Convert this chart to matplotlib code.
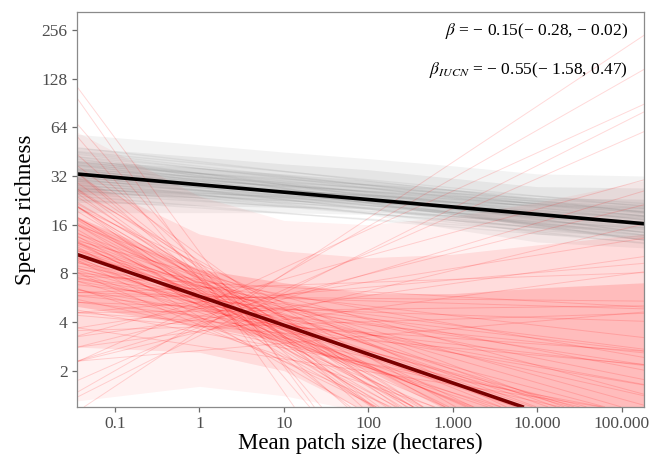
import matplotlib
matplotlib.use("Agg")
import matplotlib.pyplot as plt
from matplotlib.ticker import FixedLocator, FixedFormatter, NullLocator

plt.rcParams['font.family'] = ['Liberation Serif', 'DejaVu Serif']
plt.rcParams['mathtext.fontset'] = 'stix'

# posterior draws, read as richness at patch size 0.1 ha and 3 ha
red_at_0p1 = [8.7, 10, 7.5, 12, 6.5, 14, 5.5, 17, 4.6, 21,
              8, 9.5, 6.8, 11.5, 5.6, 14, 4.4, 3.6,
              9.5, 8, 11, 13.5, 7, 16, 5.8, 20, 4.8,
              11, 9, 13, 16, 7.5, 19, 25, 6.2,
              7.4, 6.4, 8.6, 5.4, 4.3,
              36, 30, 3.2, 2.6, 3.8, 27, 10.5, 9, 7.6, 12.5, 15, 6.4,
              9, 7.8, 10.8, 6.6, 12.8,
              9.8, 8.4, 11.6,
              55, 45, 2.0, 1.6, 2.2, 1.8, 2.9, 2.4, 3.4,
              13, 15, 11, 12.5, 17, 10, 14.5, 18, 16, 9.5, 19, 22,
              5.8, 6.8, 5, 7.6, 4.2, 6, 5.2, 7.2, 6.1, 4.9,
              8.2, 9.2, 7.9, 10.2, 8.9, 9.6,
              3.5, 4.0, 3.0, 2.7]
red_at_3 = [4.7, 4.7, 4.7, 4.7, 4.7, 4.8, 4.6, 4.7, 4.7, 4.5,
            3.8, 3.8, 3.8, 3.9, 3.7, 3.8, 3.9, 3.8,
            5.7, 5.6, 5.7, 5.8, 5.6, 5.6, 5.7, 5.8, 5.6,
            6.8, 6.6, 6.7, 7.0, 6.8, 6.9, 6.8, 6.6,
            3.1, 3.0, 3.1, 3.0, 3.1,
            4.6, 3.8, 5.0, 4.0, 6.2, 5.6, 5.2, 5.2, 5.1, 5.2, 5.3, 5.2,
            4.2, 4.2, 4.3, 4.2, 4.3,
            6.0, 6.0, 6.1,
            5.0, 3.6, 5.5, 5.2, 4.8, 4.4, 6.5, 2.8, 2.6,
            4.7, 5.2, 4.0, 4.4, 5.6, 3.6, 4.3, 5.0, 6.0, 4.0, 6.2, 5.4,
            4.3, 5.2, 4.1, 6.2, 3.6, 5.7, 4.9, 4.4, 3.6, 3.3,
            4.5, 5.0, 4.1, 5.5, 4.4, 4.6,
            4.5, 5.3, 3.8, 4.6]

# gray draws, read as richness at 0.1 ha and 1000 ha
gray_at_0p1 = [31, 34, 29, 37, 27, 40, 25, 33, 30, 36, 28, 43, 23, 32, 35, 26,
               38, 30, 34, 29, 24, 41, 33, 31, 27, 36, 39, 28, 45, 22, 32, 35,
               30, 33, 26, 37, 29, 31, 42, 25, 26, 38]
gray_at_1000 = [20.5, 22, 19, 24, 18, 25, 17, 19, 22.5, 20, 21, 27, 15.5, 24,
                18.5, 19.5, 22, 17.5, 25, 23, 18, 23.5, 21, 18.5, 20.5, 26,
                20.5, 16.5, 26, 16, 20, 23, 20, 23.5, 17, 21.5, 18, 22, 24.5,
                19, 22, 19]

# spread of the draws (outer, middle, inner region)
band_x = [0.0352, 1, 10, 100, 1000, 10000, 184000]
red_outer_lo = [1.3, 1.6, 1.4, 1.1, 1.1, 1.1, 1.1]
red_outer_hi = [60, 24, 17, 16, 18, 22, 30]
red_mid_lo = [2.8, 2.6, 2.0, 1.1, 1.1, 1.1, 1.1]
red_mid_hi = [32, 14, 11, 10, 10.5, 12, 14]
red_inner_lo = [5, 3.8, 3.0, 2.0, 1.1, 1.1, 1.1]
red_inner_hi = [18, 8.5, 7, 6, 6, 6.5, 7]
gray_outer_lo = [19, 19, 19, 18.5, 15, 12.5, 11.5]
gray_outer_hi = [58, 50, 45, 41, 37, 33, 32]
gray_mid_lo = [22, 21, 20.5, 20, 17, 14, 13]
gray_mid_hi = [48, 42, 38, 35, 31, 27.5, 27]
gray_inner_lo = [25, 23.5, 22.5, 21.5, 18.5, 15.5, 14.5]
gray_inner_hi = [40, 36, 33, 30, 26.5, 23.5, 23]

# mean fits: (richness at 0.1 ha, richness at 1000 ha)
mean_all = (31.4, 20.6)
mean_iucn = (8.7, 1.68)

x_ticks = [0.1, 1, 10, 100, 1000, 10000, 100000]
x_labels = ['0.1', '1', '10', '100', '1.000', '10.000', '100.000']
y_ticks = [2, 4, 8, 16, 32, 64, 128, 256]
y_labels = ['2', '4', '8', '16', '32', '64', '128', '256']

fig = plt.figure(figsize=(6.62, 4.54), dpi=100)
ax = fig.add_axes([0.1159, 0.1042, 0.8569, 0.8694])
ax.set_xscale('log')
ax.set_yscale('log', base=2)
ax.set_xlim(0.0352, 184000)
ax.set_ylim(1.198, 330.8)

for lo, hi, al in [(gray_outer_lo, gray_outer_hi, 0.09), (gray_mid_lo, gray_mid_hi, 0.12),
                   (gray_inner_lo, gray_inner_hi, 0.14)]:
    ax.fill_between(band_x, lo, hi, color='0.5', alpha=al, lw=0)
for lo, hi, al in [(red_outer_lo, red_outer_hi, 0.05), (red_mid_lo, red_mid_hi, 0.09),
                   (red_inner_lo, red_inner_hi, 0.14)]:
    ax.fill_between(band_x, lo, hi, color='red', alpha=al, lw=0)

for a, b in zip(gray_at_0p1, gray_at_1000):
    ax.axline((0.1, a), (1000, b), color='0.4', alpha=0.09, lw=1.0)
for a, b in zip(red_at_0p1, red_at_3):
    ax.axline((0.1, a), (3, b), color='red', alpha=0.15, lw=0.7)

ax.axline((0.1, mean_all[0]), (1000, mean_all[1]), color='black', lw=2.6)
ax.axline((0.1, mean_iucn[0]), (1000, mean_iucn[1]), color='#7a0000', lw=2.6)

ax.xaxis.set_major_locator(FixedLocator(x_ticks))
ax.xaxis.set_major_formatter(FixedFormatter(x_labels))
ax.xaxis.set_minor_locator(NullLocator())
ax.yaxis.set_major_locator(FixedLocator(y_ticks))
ax.yaxis.set_major_formatter(FixedFormatter(y_labels))
ax.yaxis.set_minor_locator(NullLocator())

for s in ax.spines.values():
    s.set_color('#8a8a8a')
    s.set_linewidth(0.9)
ax.tick_params(direction='out', length=3.5, width=0.9, color='#6a6a6a',
               labelsize=12.5, labelcolor='#4d4d4d', pad=3)

ax.set_xlabel('Mean patch size (hectares)', fontsize=16.5, labelpad=1)
ax.set_ylabel('Species richness', fontsize=16.5, labelpad=4)

ax.text(0.972, 0.952, r'$\beta$ = − 0.15(− 0.28, − 0.02)', transform=ax.transAxes,
        ha='right', va='center', fontsize=12.5)
ax.text(0.972, 0.853, r'$\beta_{IUCN}$ = − 0.55(− 1.58, 0.47)', transform=ax.transAxes,
        ha='right', va='center', fontsize=12.5)

fig.savefig('out.png', dpi=100)
